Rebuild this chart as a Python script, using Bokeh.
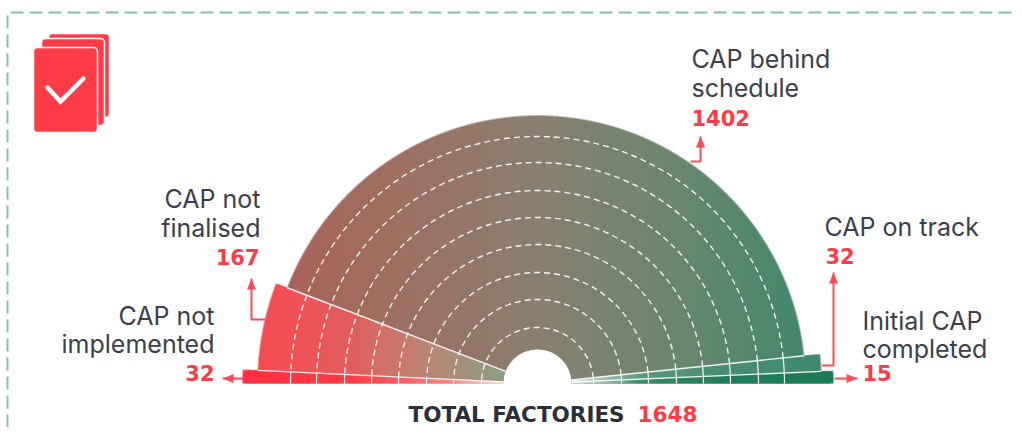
import numpy as np
from bokeh.plotting import figure
from bokeh.embed import file_html
from bokeh.resources import INLINE
from bokeh.core.properties import value

# ---- data ----
categories = ["CAP not implemented", "CAP not finalised", "CAP behind schedule", "CAP on track", "Initial CAP completed"]
factories = [32, 167, 1402, 32, 15]
total_factories = 1648
outer_radius = [295, 280, 268, 284, 296]
ring_radius = [56, 84, 111, 139, 166, 193, 221, 247]

# gradient stops per segment: (pixel x positions, colours)
stops = [
    ([242, 350, 450, 505], [(255, 48, 64), (255, 58, 72), (250, 130, 130), (255, 225, 225)]),
    ([259, 350, 420, 505], [(246, 74, 82), (226, 94, 94), (190, 130, 115), (140, 160, 130)]),
    ([288, 400, 537, 680, 805], [(170, 98, 88), (157, 112, 98), (138, 127, 110), (105, 135, 110), (66, 135, 107)]),
    ([570, 640, 720, 822], [(215, 232, 222), (90, 150, 125), (72, 142, 115), (62, 138, 110)]),
    ([570, 640, 720, 834], [(235, 242, 238), (60, 140, 105), (32, 125, 90), (28, 122, 85)]),
]

W, H = 1014, 427
CX, CY = 537, H - 383
R_IN = 34
TILT = np.radians(-0.8)
RED = "#ff3b47"
DARK = "#3b404c"
ARROW = "#ff4a55"
TEXT_SHIFT = 9.5

p = figure(width=W, height=H, x_range=(0, W), y_range=(0, H), output_backend="svg",
           toolbar_location=None, min_border=0)
p.axis.visible = False
p.grid.visible = False
p.outline_line_color = None
p.background_fill_color = "white"


def fy(y):
    return H - y


cum = np.cumsum([0] + factories) / total_factories * np.pi
bounds = cum + TILT
bounds[0], bounds[-1] = 0.0, np.pi

for i in range(len(factories)):
    mid = stops[i][1][len(stops[i][1]) // 2]
    p.annular_wedge(x=[CX], y=[CY], inner_radius=[R_IN], outer_radius=[outer_radius[i] - 3],
                    start_angle=[np.pi - bounds[i + 1]], end_angle=[np.pi - bounds[i]],
                    fill_color="#%02x%02x%02x" % mid, line_color=None)

x0, x1, y0, y1 = 230, 845, 30, 330
SS = 3
xs = (np.arange((x1 - x0) * SS) + .5) / SS + x0
ys = (np.arange((y1 - y0) * SS) + .5) / SS + y0
gx, gy = np.meshgrid(xs, ys)
rr = np.hypot(gx - CX, gy - CY)
th = np.arctan2(gy - CY, -(gx - CX))
rgb = np.zeros(gx.shape + (3,))
cov = np.zeros(gx.shape)
for i in range(len(factories)):
    m = (rr >= R_IN) & (rr <= outer_radius[i]) & (th >= bounds[i]) & (th < bounds[i + 1]) & (gy >= CY)
    sx, sc = stops[i]
    for c in range(3):
        rgb[..., c][m] = np.interp(gx[m], sx, [k[c] for k in sc])
    cov[m] = 1
hh, ww = cov.shape[0] // SS, cov.shape[1] // SS
covb = cov.reshape(hh, SS, ww, SS).mean(axis=(1, 3))
rgbb = (rgb * cov[..., None]).reshape(hh, SS, ww, SS, 3).sum(axis=(1, 3)) / np.maximum(cov.reshape(hh, SS, ww, SS).sum(axis=(1, 3)), 1)[..., None]
img = np.zeros((hh, ww), dtype=np.uint32)
view = img.view(dtype=np.uint8).reshape(hh, ww, 4)
view[..., :3] = np.round(rgbb).astype(np.uint8)
view[..., 3] = np.round(covb * 255).astype(np.uint8)
p.image_rgba(image=[img], x=x0, y=y0, dw=x1 - x0, dh=y1 - y0)

for r in ring_radius:
    p.arc(x=[CX], y=[CY], radius=[r], start_angle=[np.pi - bounds[3]], end_angle=[np.pi - bounds[1]],
          line_color="white", line_width=1.4, line_dash="6 4", line_alpha=.9)
    for a, b in [(0, 1), (3, 4), (4, 5)]:
        p.arc(x=[CX], y=[CY], radius=[r], start_angle=[np.pi - bounds[b]], end_angle=[np.pi - bounds[a]],
              line_color="white", line_width=1.2, line_alpha=.95)

for k in range(1, len(factories)):
    a = bounds[k]
    rmax = min(outer_radius[k - 1], outer_radius[k])
    p.segment(x0=[CX - R_IN * np.cos(a)], y0=[CY + R_IN * np.sin(a)],
              x1=[CX - rmax * np.cos(a)], y1=[CY + rmax * np.sin(a)],
              line_color="white", line_width=1.4, line_alpha=.9)

p.circle(x=[CX], y=[CY], radius=[R_IN], fill_color="white", line_color=None)

p.line(x=[7, 7, W], y=[0, fy(12), fy(12)], line_color="#8bbcbc", line_width=2, line_dash="13 6")


def arrow(px, py, head):
    p.line(x=px, y=[fy(v) for v in py], line_color=ARROW, line_width=2)
    tx, ty = px[-1], fy(py[-1])
    if head == "up":
        hx, hy = [tx, tx - 4.5, tx + 4.5], [ty, ty - 11, ty - 11]
    elif head == "left":
        hx, hy = [tx, tx + 11, tx + 11], [ty, ty + 4.5, ty - 4.5]
    else:
        hx, hy = [tx, tx - 11, tx - 11], [ty, ty + 4.5, ty - 4.5]
    p.patch(x=hx, y=hy, fill_color=ARROW, line_color=None)


arrow([243, 222], [378, 378], "left")
arrow([265, 251, 251], [319, 319, 278], "up")
arrow([690, 700, 700], [161, 161, 136], "up")
arrow([821, 833, 833], [365, 365, 272], "up")
arrow([834, 857], [378, 378], "right")

FONT = "Inter"
labels = [
    ("CAP not", 260, 208, "right"), ("finalised", 260, 237, "right"),
    ("CAP not", 214, 325, "right"), ("implemented", 214, 353, "right"),
    ("CAP behind", 691, 68, "left"), ("schedule", 691, 97, "left"),
    ("CAP on track", 824, 236, "left"),
    ("Initial CAP", 862, 330, "left"), ("completed", 862, 358, "left"),
]
for t, x, y, al in labels:
    p.text(x=[x], y=[fy(y) + TEXT_SHIFT], text=[t], text_font=value(FONT), text_font_size="25px",
           text_color=DARK, text_align=al, text_baseline="alphabetic")
numbers = [
    (str(factories[0]), 214, 382, "right"), (str(factories[1]), 259, 266, "right"),
    (str(factories[2]), 691, 127, "left"), (str(factories[3]), 825, 265, "left"),
    (str(factories[4]), 862, 382, "left"),
]
for t, x, y, al in numbers:
    p.text(x=[x], y=[fy(y) + TEXT_SHIFT], text=[t], text_font=value("DejaVu Sans"), text_font_size="21px",
           text_font_style="bold", text_color=RED, text_align=al, text_baseline="alphabetic")
p.text(x=[408], y=[fy(423) + TEXT_SHIFT], text=["TOTAL FACTORIES"], text_font=value("DejaVu Sans"), text_font_size="21.5px",
       text_font_style="bold", text_color="#2b2f3a", text_baseline="alphabetic")
p.text(x=[637], y=[fy(423) + TEXT_SHIFT], text=[str(total_factories)], text_font=value("DejaVu Sans"), text_font_size="21.5px",
       text_font_style="bold", text_color=RED, text_baseline="alphabetic")

for l, r, t, b in [(48, 109, 33, 117), (41, 104, 38, 125), (33, 97, 47, 132)]:
    p.quad(left=[l], right=[r], top=[fy(t)], bottom=[fy(b)], fill_color=RED, line_color="white", line_width=1.5,
           border_radius=4)
p.line(x=[47, 60, 83], y=[fy(87), fy(101), fy(78)], line_color="white", line_width=4.5,
       line_join="miter", line_cap="round")

open("out.html", "w").write(file_html(p, INLINE))
